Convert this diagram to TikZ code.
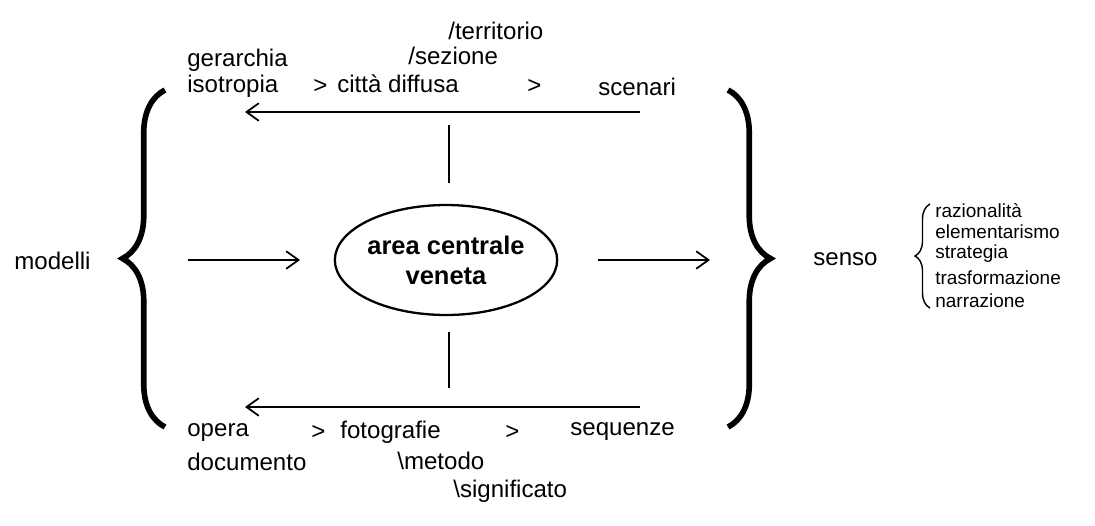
\documentclass[tikz,border=0pt]{standalone}
\usepackage{fontspec}
\setmainfont{Liberation Sans}
\usetikzlibrary{arrows.meta,decorations.pathreplacing,shapes.geometric}
\tikzset{
  lbl/.style={inner sep=0pt, anchor=west, font=\fontsize{13.7}{15}\selectfont},
  small/.style={inner sep=0pt, anchor=west, font=\fontsize{10.8}{12}\selectfont},
  bigbrace/.style={decorate, decoration={brace, amplitude=0.85cm, aspect=0.5}, line width=3.2pt},
  arr/.style={-{Straight Barb[length=7pt,width=10pt,line width=1pt]}, line width=0.8pt}
}
\begin{document}
\begin{tikzpicture}[x=0.02cm, y=-0.02cm]
    \useasboundingbox (0,0) rectangle (1095,525);
        % centre
        \node[draw, ellipse, line width=1.3pt, minimum width=4.4cm, minimum height=2.2cm,
            inner sep=0pt, align=center, font=\fontsize{14.5}{17}\selectfont\bfseries] (area) at (446,260)
            {area centrale\\veneta};
        \node[lbl] (modelli) at (14,261) {modelli};
        \node[lbl] (senso) at (813,259) {senso};

        % braces
        \coordinate (lbtop) at (165,90);
        \coordinate (lbbot) at (165,427);
        \coordinate (rbtop) at (728,90);
        \coordinate (rbbot) at (728,427);
        \draw[bigbrace] (lbbot) -- (lbtop);
        \draw[bigbrace] (rbtop) -- (rbbot);
        \coordinate (sbtop) at (930,204);
        \coordinate (sbbot) at (930,308);
        \draw[decorate, decoration={brace, amplitude=0.3cm}, line width=0.8pt] (sbbot) -- (sbtop);

        % horizontal connectors
        \coordinate (lin) at (188,260);
        \coordinate (lout) at (300,260);
        \coordinate (rin) at (598,260);
        \coordinate (rout) at (710,260);
        \draw[arr] (lin) -- (lout);
        \draw[arr] (rin) -- (rout);
        \coordinate (tr) at (640,112);
        \coordinate (tl) at (245,112);
        \coordinate (br) at (640,407);
        \coordinate (bl) at (245,407);
        \draw[arr] (tr) -- (tl);
        \draw[arr] (br) -- (bl);
        \coordinate (vt) at (449,125);
        \coordinate (vtb) at (449,183);
        \coordinate (vb) at (449,388);
        \coordinate (vbt) at (449,332);
        \draw[line width=0.8pt] (vt) -- (vtb);
        \draw[line width=0.8pt] (vb) -- (vbt);

        % top row
        \node[lbl] (gerarchia) at (187,60) {gerarchia};
        \node[lbl] (isotropia) at (187,86) {isotropia};
        \node[lbl] (gt1) at (313,86) {>};
        \node[lbl] (citta) at (337,84) {città diffusa};
        \node[lbl] (gt2) at (527,86) {>};
        \node[lbl] (scenari) at (598,87) {scenari};
        \node[lbl] (sezione) at (408,56) {/sezione};
        \node[lbl] (territorio) at (448,31) {/territorio};

        % bottom row
        \node[lbl] (opera) at (187,433) {opera};
        \node[lbl] (gt3) at (311,432) {>};
        \node[lbl] (fotografie) at (340,432) {fotografie};
        \node[lbl] (gt4) at (505,432) {>};
        \node[lbl] (sequenze) at (570,432) {sequenze};
        \node[lbl] (documento) at (187,462) {documento};
        \node[lbl] (metodo) at (397,461) {\textbackslash metodo};
        \node[lbl] (significato) at (453,491) {\textbackslash significato};

        % right list
        \node[small] (raz) at (935,211) {razionalità};
        \node[small] (elem) at (935,232) {elementarismo};
        \node[small] (strat) at (935,254) {strategia};
        \node[small] (trasf) at (935,278) {trasformazione};
        \node[small] (narr) at (935,301) {narrazione};
    \end{tikzpicture}
\end{document}
